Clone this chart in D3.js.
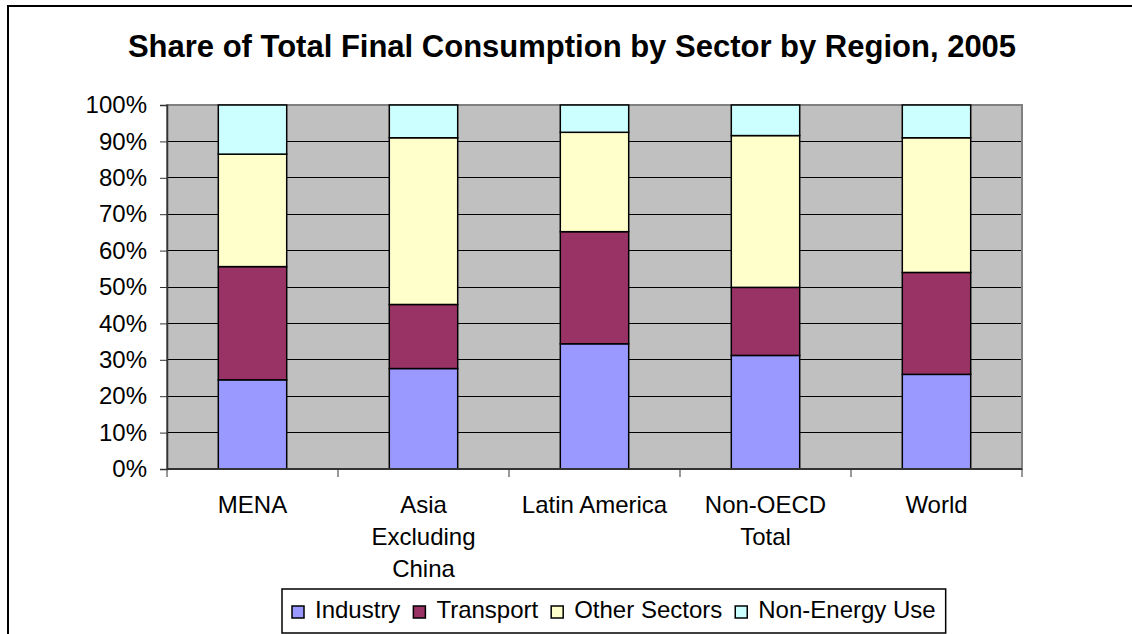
<!DOCTYPE html>
<html>
<head>
<meta charset="utf-8">
<script src="https://cdn.jsdelivr.net/npm/d3@7"></script>
<style>
  html, body { margin: 0; padding: 0; background: #fff; overflow: hidden; }
  svg { display: block; font-family: "Liberation Sans", Arial, sans-serif; }
</style>
</head>
<body>
<svg id="chart"></svg>
<script>
// ======================
// DATA
// ======================
const regions = ["MENA", "Asia Excluding China", "Latin America", "Non-OECD Total", "World"];
const regionLines = [["MENA"], ["Asia", "Excluding", "China"], ["Latin America"], ["Non-OECD", "Total"], ["World"]];
const sectors = ["Industry", "Transport", "Other Sectors", "Non-Energy Use"];
const industry = [24.5, 27.6, 34.4, 31.2, 26.0];
const transport = [31.1, 17.6, 30.8, 18.7, 28.0];
const otherSectors = [30.9, 45.8, 27.3, 41.7, 37.0];
const nonEnergy = [13.5, 9.0, 7.5, 8.4, 9.0];
const yTicks = [0, 10, 20, 30, 40, 50, 60, 70, 80, 90, 100];

const sectorColors = ["#9999FF", "#993366", "#FFFFCC", "#CCFFFF"];

// ======================
// SETUP
// ======================
const width = 1132;
const height = 634;
const svg = d3.select("#chart").attr("width", width).attr("height", height);

const margin = { top: 105, right: 110, bottom: 165, left: 167 };
const innerWidth = width - margin.left - margin.right;
const innerHeight = height - margin.top - margin.bottom;

// outer chart frame: only the left and top edges fall inside the picture
svg.append("path")
    .attr("d", `M8,${height} V6 H${width}`)
    .attr("fill", "none")
    .attr("stroke", "#000")
    .attr("stroke-width", 2);

// title
svg.append("text")
    .attr("x", 572).attr("y", 57)
    .attr("text-anchor", "middle")
    .attr("font-size", 31)
    .attr("font-weight", "bold")
    .text("Share of Total Final Consumption by Sector by Region, 2005");

const g = svg.append("g").attr("transform", `translate(${margin.left},${margin.top})`);

const x = d3.scaleBand().domain(regions).range([0, innerWidth]).padding(0);
const y = d3.scaleLinear().domain([0, 100]).range([innerHeight, 0]);

// plot background
g.append("rect")
    .attr("width", innerWidth).attr("height", innerHeight)
    .attr("fill", "#C0C0C0");

// gridlines
g.selectAll(".grid")
    .data(yTicks.filter(t => t > 0))
    .enter().append("line")
    .attr("x1", 0).attr("x2", innerWidth)
    .attr("y1", d => y(d)).attr("y2", d => y(d))
    .attr("stroke", "#000").attr("stroke-width", 1)
    .attr("shape-rendering", "crispEdges");

// plot border
g.append("rect")
    .attr("width", innerWidth).attr("height", innerHeight)
    .attr("fill", "none")
    .attr("stroke", "#808080").attr("stroke-width", 2);

// ======================
// STACKED BARS
// ======================
const table = regions.map((r, i) => ({
    region: r,
    "Industry": industry[i],
    "Transport": transport[i],
    "Other Sectors": otherSectors[i],
    "Non-Energy Use": nonEnergy[i]
}));
const stacked = d3.stack().keys(sectors)(table);
const barWidth = x.bandwidth() / 2.5;

const layers = g.selectAll(".layer")
    .data(stacked)
    .enter().append("g")
    .attr("fill", (d, i) => sectorColors[i]);

layers.selectAll("rect")
    .data(d => d)
    .enter().append("rect")
    .attr("x", d => x(d.data.region) + (x.bandwidth() - barWidth) / 2)
    .attr("y", d => y(d[1]))
    .attr("width", barWidth)
    .attr("height", d => y(d[0]) - y(d[1]))
    .attr("stroke", "#000")
    .attr("stroke-width", 1.5);

// ======================
// AXES
// ======================
const yAxis = g.append("g")
    .call(d3.axisLeft(y).tickValues(yTicks).tickSize(7).tickPadding(13).tickFormat(d => d + "%"));
yAxis.select(".domain").attr("stroke", "#333").attr("stroke-width", 1.5);
yAxis.selectAll(".tick line").attr("stroke", "#333");
yAxis.selectAll("text").attr("font-size", 24).attr("fill", "#000")
    .attr("font-family", "Liberation Sans, Arial, sans-serif");

const xAxisG = g.append("g").attr("transform", `translate(0,${innerHeight})`);
xAxisG.append("line")
    .attr("x1", 0).attr("x2", innerWidth)
    .attr("stroke", "#333").attr("stroke-width", 2);
xAxisG.selectAll(".xtick")
    .data(regions.map(r => x(r)).concat([innerWidth]))
    .enter().append("line")
    .attr("x1", d => d).attr("x2", d => d)
    .attr("y1", 0).attr("y2", 8)
    .attr("stroke", "#333").attr("stroke-width", 1);

const labels = xAxisG.selectAll(".xlabel")
    .data(regions)
    .enter().append("text")
    .attr("text-anchor", "middle")
    .attr("font-size", 24)
    .attr("transform", d => `translate(${x(d) + x.bandwidth() / 2},44)`);
labels.selectAll("tspan")
    .data((d, i) => regionLines[i])
    .enter().append("tspan")
    .attr("x", 0)
    .attr("dy", (d, i) => i === 0 ? 0 : 32)
    .text(d => d);

// ======================
// LEGEND
// ======================
const legend = svg.append("g");
const legendBox = legend.append("rect")
    .attr("y", 589).attr("height", 44)
    .attr("fill", "#fff").attr("stroke", "#000").attr("stroke-width", 1.5);

let lx = 292;
sectors.forEach((s, i) => {
    legend.append("rect")
        .attr("x", lx).attr("y", 606)
        .attr("width", 12).attr("height", 12)
        .attr("fill", sectorColors[i])
        .attr("stroke", "#000").attr("stroke-width", 1.5);
    const t = legend.append("text")
        .attr("x", lx + 23).attr("y", 618)
        .attr("font-size", 24)
        .text(s);
    lx += 23 + t.node().getComputedTextLength() + 13;
});
legendBox.attr("x", 282).attr("width", lx - 282 - 3);
</script>
</body>
</html>
